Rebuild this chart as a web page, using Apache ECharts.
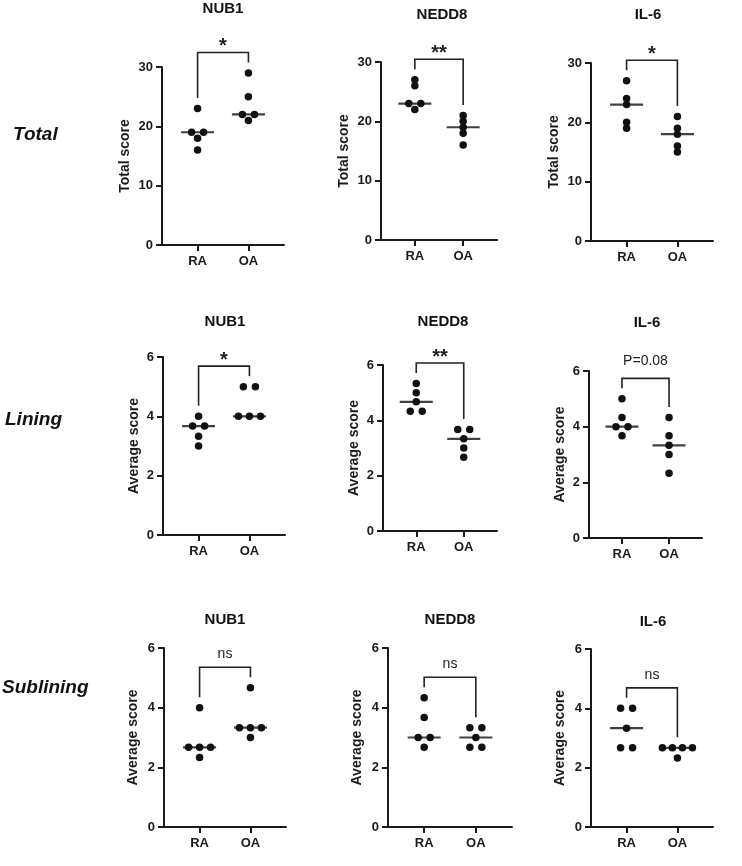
<!DOCTYPE html>
<html><head><meta charset="utf-8">
<script src="https://cdn.jsdelivr.net/npm/echarts@6/dist/echarts.min.js"></script>
<style>html,body{margin:0;padding:0;background:#fff;}#c{width:742px;height:866px;}</style>
</head><body><div id="c"></div>
<script>
// ---------- data ----------
const groups = ['RA', 'OA'];
const rowLabels = ['Total', 'Lining', 'Sublining'];
const markers = ['NUB1', 'NEDD8', 'IL-6'];
const yTitles = ['Total score', 'Average score', 'Average score'];
const yMax = [30, 6, 6];
const yInterval = [10, 2, 2];

const totalNUB1RA  = [23, 19, 19, 18, 16];
const totalNUB1OA  = [29, 25, 22, 22, 21];
const totalNEDD8RA = [27, 26, 23, 23, 22];
const totalNEDD8OA = [21, 20, 19, 18, 16];
const totalIL6RA   = [27, 24, 23, 20, 19];
const totalIL6OA   = [21, 19, 18, 16, 15];

const liningNUB1RA  = [4, 3.67, 3.67, 3.33, 3];
const liningNUB1OA  = [5, 5, 4, 4, 4];
const liningNEDD8RA = [5.33, 5, 4.67, 4.33, 4.33];
const liningNEDD8OA = [3.67, 3.67, 3.33, 3, 2.67];
const liningIL6RA   = [5, 4.33, 4, 4, 3.67];
const liningIL6OA   = [4.33, 3.67, 3.33, 3, 2.33];

const subNUB1RA  = [4, 2.67, 2.67, 2.67, 2.33];
const subNUB1OA  = [4.67, 3.33, 3.33, 3.33, 3];
const subNEDD8RA = [4.33, 3.67, 3, 3, 2.67];
const subNEDD8OA = [3.33, 3.33, 3, 2.67, 2.67];
const subIL6RA   = [4, 4, 3.33, 2.67, 2.67];
const subIL6OA   = [2.67, 2.67, 2.67, 2.67, 2.33];

const sigLabels = ['*', '**', '*', '*', '**', 'P=0.08', 'ns', 'ns', 'ns'];

const panelData = [
  [totalNUB1RA, totalNUB1OA], [totalNEDD8RA, totalNEDD8OA], [totalIL6RA, totalIL6OA],
  [liningNUB1RA, liningNUB1OA], [liningNEDD8RA, liningNEDD8OA], [liningIL6RA, liningIL6OA],
  [subNUB1RA, subNUB1OA], [subNEDD8RA, subNEDD8OA], [subIL6RA, subIL6OA]
];

// ---------- layout ----------
const grids = [
  {left: 162, top: 67, width: 122, height: 178},
  {left: 381, top: 62, width: 116, height: 178},
  {left: 591, top: 63, width: 122, height: 178},
  {left: 163, top: 357, width: 122, height: 178},
  {left: 383, top: 365, width: 114, height: 166},
  {left: 589, top: 371, width: 113, height: 167},
  {left: 164, top: 648, width: 122, height: 179},
  {left: 388, top: 648, width: 124, height: 179},
  {left: 591, top: 649, width: 122, height: 178}
];
const titlePos = [[223, 9], [442, 15], [648, 15], [225, 322], [443, 322], [647, 323], [225, 620], [450, 620], [653, 622]];
const rowPos = [[13, 135], [5, 420], [2, 688]];
const nameGaps = [30, 22, 24];

const FONT = '"Liberation Sans", Arial, Helvetica, sans-serif';
const INK = '#1a1a1a';

function median(arr) {
  const s = arr.slice().sort((a, b) => a - b);
  const m = Math.floor(s.length / 2);
  return s.length % 2 ? s[m] : (s[m - 1] + s[m]) / 2;
}
function swarm(values, gi) {
  const counts = {}, idx = {};
  values.forEach(v => { const k = v.toFixed(2); counts[k] = (counts[k] || 0) + 1; });
  return values.map(v => {
    const k = v.toFixed(2);
    const n = counts[k];
    const i = idx[k] = (idx[k] === undefined ? 0 : idx[k] + 1);
    const sp = n >= 4 ? 10 : (n === 3 ? 11 : 12);
    const off = (i - (n - 1) / 2) * sp;
    return {value: [gi, v], symbolOffset: [off, 0]};
  });
}

const option = {
  animation: false,
  backgroundColor: '#fff',
  textStyle: {fontFamily: FONT},
  grid: [], xAxis: [], yAxis: [], series: [], graphic: []
};

grids.forEach((g, p) => {
  const row = Math.floor(p / 3);
  option.grid.push(Object.assign({containLabel: false}, g));
  option.xAxis.push({
    gridIndex: p, type: 'value', min: -0.7, max: 1.7,
    axisLine: {show: true, onZero: false, lineStyle: {color: INK, width: 2}},
    axisTick: {show: true, customValues: [0, 1], length: 6, lineStyle: {color: INK, width: 2}},
    axisLabel: {show: true, customValues: [0, 1], margin: 10, formatter: v => groups[Math.round(v)] || '',
      color: INK, fontWeight: 'bold', fontSize: 13, fontFamily: FONT},
    splitLine: {show: false}
  });
  option.yAxis.push({
    gridIndex: p, type: 'value', min: 0, max: yMax[row], interval: yInterval[row],
    name: yTitles[row], nameLocation: 'middle', nameGap: nameGaps[row],
    nameTextStyle: {color: INK, fontWeight: 'bold', fontSize: 14, fontFamily: FONT},
    axisLine: {show: true, onZero: false, lineStyle: {color: INK, width: 2}},
    axisTick: {show: true, length: 6, lineStyle: {color: INK, width: 2}},
    axisLabel: {color: INK, fontWeight: 'bold', fontSize: 13, margin: 9, fontFamily: FONT},
    splitLine: {show: false}
  });
  const [ra, oa] = panelData[p];
  option.series.push({
    type: 'scatter', xAxisIndex: p, yAxisIndex: p, symbol: 'circle', symbolSize: 7.5,
    itemStyle: {color: '#111', opacity: 1},
    data: swarm(ra, 0).concat(swarm(oa, 1)), z: 3
  });
  option.series.push({
    type: 'scatter', xAxisIndex: p, yAxisIndex: p, symbol: 'rect', symbolSize: [33, 2.2],
    itemStyle: {color: '#111'},
    data: [[0, median(ra)], [1, median(oa)]], z: 4
  });
  const label = sigLabels[p];
  const isStar = label.indexOf('*') === 0;
  option.series.push({
    type: 'custom', xAxisIndex: p, yAxisIndex: p, clip: false, z: 5,
    data: [[Math.max.apply(null, ra), Math.max.apply(null, oa)]],
    renderItem: (params, api) => {
      const pRA = api.coord([0, api.value(0)]);
      const pOA = api.coord([1, api.value(1)]);
      const yl = pRA[1] - 10.5, yr = pOA[1] - 10.5;
      const top = Math.min(yl, yr) - 10;
      return {type: 'group', children: [
        {type: 'polyline', shape: {points: [[pRA[0], yl], [pRA[0], top], [pOA[0], top], [pOA[0], yr]]},
          style: {stroke: '#222', lineWidth: 1.6, fill: null}},
        {type: 'text', style: {text: label, x: (pRA[0] + pOA[0]) / 2,
          y: isStar ? top - 6 : (label.length > 3 ? top - 17 : top - 13),
          align: 'center', verticalAlign: 'middle', fill: '#222',
          font: isStar ? 'bold 20px ' + FONT : '14px ' + FONT}}
      ]};
    }
  });
  option.graphic.push({
    type: 'text', x: titlePos[p][0], y: titlePos[p][1],
    style: {text: markers[p % 3], align: 'center', verticalAlign: 'middle', fill: '#111',
      font: 'bold 15px ' + FONT}
  });
});
rowLabels.forEach((t, r) => {
  option.graphic.push({
    type: 'text', x: rowPos[r][0], y: rowPos[r][1],
    style: {text: t, align: 'left', verticalAlign: 'middle', fill: '#111',
      font: 'italic bold 19px ' + FONT}
  });
});

const chart = echarts.init(document.getElementById('c'), null, {renderer: 'canvas'});
chart.setOption(option);
</script>
</body></html>
